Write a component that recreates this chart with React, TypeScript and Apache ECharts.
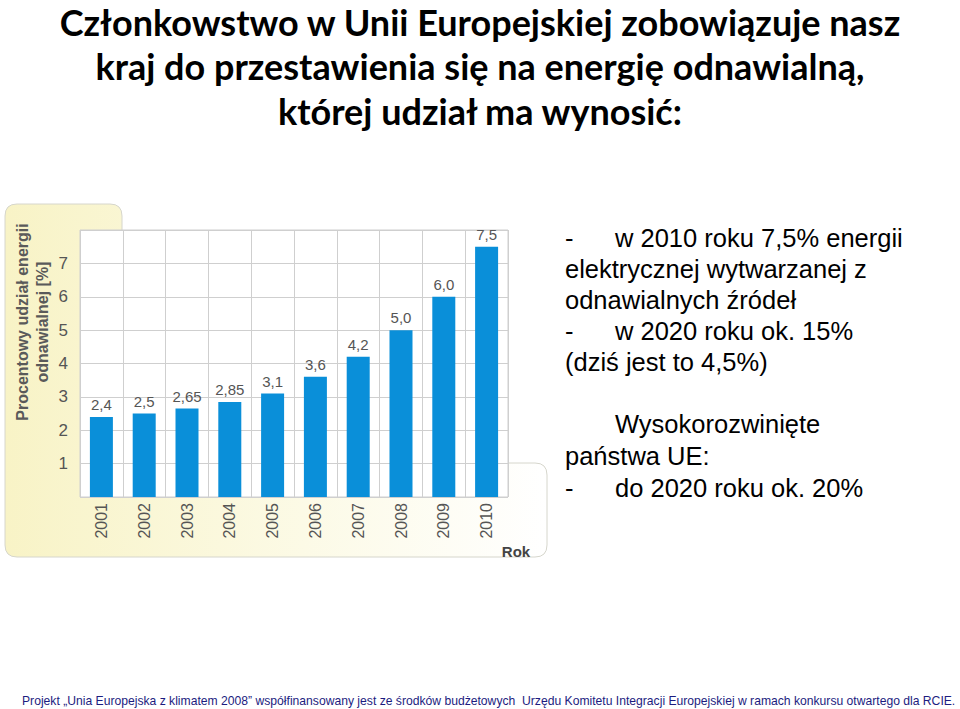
import React, { useEffect, useRef } from "react";
import * as echarts from "echarts";

const years = ["2001", "2002", "2003", "2004", "2005", "2006", "2007", "2008", "2009", "2010"];
const shares = [2.4, 2.5, 2.65, 2.85, 3.1, 3.6, 4.2, 5.0, 6.0, 7.5];
const shareLabels = ["2,4", "2,5", "2,65", "2,85", "3,1", "3,6", "4,2", "5,0", "6,0", "7,5"];
const yTicks = [1, 2, 3, 4, 5, 6, 7];

const titleLines = [
  "Członkowstwo w Unii Europejskiej zobowiązuje nasz",
  "kraj do przestawienia się na energię odnawialną,",
  "której udział ma wynosić:",
];
const titleLineY = [22, 66, 111];

const sideLines = [
  { dash: true, text: "w 2010 roku 7,5% energii" },
  { dash: false, text: "elektrycznej wytwarzanej z" },
  { dash: false, text: "odnawialnych źródeł" },
  { dash: true, text: "w 2020 roku ok. 15%" },
  { dash: false, text: "(dziś jest to 4,5%)" },
  { dash: false, indent: true, text: "Wysokorozwinięte" },
  { dash: false, text: "państwa UE:" },
  { dash: true, text: "do 2020 roku ok. 20%" },
];
const sideLineY = [238, 269, 300, 331, 362, 424, 456, 488];

const footer =
  "Projekt \u201EUnia Europejska z klimatem 2008\u201D współfinansowany jest ze środków budżetowych  Urzędu Komitetu Integracji Europejskiej w ramach konkursu otwartego dla RCIE.";

echarts.graphic.registerShape(
  "panelL",
  echarts.graphic.extendPath(
    "M17,204 L110,204 Q122,204 122,216 L122,463 L535,463 Q547,463 547,475 L547,545 Q547,557 535,557 L17,557 Q5,557 5,545 L5,216 Q5,204 17,204 Z",
    {}
  )
);

export default function App() {
  const ref = useRef<HTMLDivElement>(null);
  useEffect(() => {
    if (!ref.current) return;
    const chart = echarts.init(ref.current, null, { renderer: "svg" });

    const graphics: any[] = [
      {
        type: "panelL",
        x: 0,
        y: 0,
        z: -10,
        style: {
          fill: new echarts.graphic.LinearGradient(0, 0, 1, 0, [
            { offset: 0, color: "#f8f3c6" },
            { offset: 0.55, color: "#fcfae6" },
            { offset: 1, color: "#ffffff" },
          ]),
          stroke: "#d6d6cc",
          lineWidth: 1,
        },
      },
      {
        type: "text",
        x: 32,
        y: 322,
        rotation: Math.PI / 2,
        style: {
          text: "Procentowy udział energii\nodnawialnej [%]",
          font: "bold 16px 'Liberation Sans', Arial, sans-serif",
          fill: "#5a5a5a",
          align: "center",
          verticalAlign: "middle",
          lineHeight: 20,
        },
      },
      {
        type: "text",
        x: 516,
        y: 551,
        style: {
          text: "Rok",
          font: "bold 15px 'Liberation Sans', Arial, sans-serif",
          fill: "#444",
          align: "center",
          verticalAlign: "middle",
        },
      },
    ];

    titleLines.forEach((t, i) => {
      graphics.push({
        type: "text",
        x: 480,
        y: titleLineY[i],
        style: {
          text: t,
          font: "bold 36px Lato, 'Open Sans', sans-serif",
          fill: "#000",
          align: "center",
          verticalAlign: "middle",
        },
      });
    });

    sideLines.forEach((l: any, i) => {
      const y = sideLineY[i];
      const font = "25.5px 'Liberation Sans', Arial, sans-serif";
      if (l.dash) {
        graphics.push({
          type: "text",
          x: 565,
          y,
          style: { text: "-", font, fill: "#000", verticalAlign: "middle" },
        });
      }
      graphics.push({
        type: "text",
        x: l.dash || l.indent ? 615 : 565,
        y,
        style: { text: l.text, font, fill: "#000", verticalAlign: "middle" },
      });
    });

    graphics.push({
      type: "text",
      x: 22,
      y: 701,
      style: {
        text: footer,
        font: "12.15px 'Liberation Sans', Arial, sans-serif",
        fill: "#1c1c80",
        verticalAlign: "middle",
      },
    });

    chart.setOption({
      animation: false,
      backgroundColor: "#fff",
      graphic: graphics,
      grid: {
        left: 80,
        top: 230,
        width: 428,
        height: 267,
        show: true,
        backgroundColor: "#fff",
        borderColor: "#cfcfcf",
        borderWidth: 1,
        containLabel: false,
      },
      xAxis: {
        type: "category",
        data: years,
        axisLine: { show: false },
        axisTick: { show: false },
        splitLine: { show: true, lineStyle: { color: "#cfcfcf" } },
        axisLabel: {
          rotate: 90,
          margin: 6,
          color: "#555",
          fontSize: 16,
          fontFamily: "'Liberation Sans', Arial, sans-serif",
        },
      },
      yAxis: {
        type: "value",
        min: 0,
        max: 8,
        interval: 1,
        axisLine: { show: false },
        axisTick: { show: false },
        splitLine: { show: true, lineStyle: { color: "#cfcfcf" } },
        axisLabel: {
          margin: 12,
          color: "#555",
          fontSize: 17,
          fontFamily: "'Liberation Sans', Arial, sans-serif",
          formatter: (v: number) => (yTicks.indexOf(v) >= 0 ? String(v) : ""),
        },
      },
      series: [
        {
          type: "bar",
          data: shares,
          barWidth: 23,
          itemStyle: { color: "#0a8fd9" },
          label: {
            show: true,
            position: "top",
            distance: 5,
            color: "#555",
            fontSize: 15,
            fontFamily: "'Liberation Sans', Arial, sans-serif",
            formatter: (p: any) => shareLabels[p.dataIndex],
          },
        },
      ],
    });
    return () => chart.dispose();
  }, []);
  return (
    <div
      ref={ref}
      style={{ position: "fixed", left: 0, top: 0, width: 960, height: 709 }}
    />
  );
}
